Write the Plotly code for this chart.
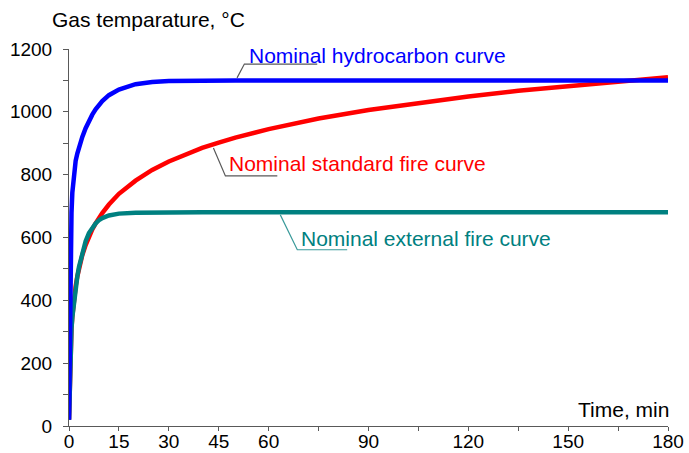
import plotly.graph_objects as go

time_min = [0, 0.25, 0.5, 0.75, 1, 1.5, 2, 2.5, 3, 4, 5, 6, 7, 8, 9, 10, 12, 15, 20, 25,
            30, 35, 40, 45, 50, 60, 75, 90, 105, 120, 135, 150, 165, 180]
hydrocarbon = [20, 373, 568, 679, 743, 810, 844, 867, 887, 920, 948, 971, 991, 1008, 1022, 1034,
               1053, 1071, 1088, 1095, 1098, 1099, 1100, 1100, 1100, 1100, 1100, 1100, 1100,
               1100, 1100, 1100, 1100, 1100]
standard = [20, 185, 261, 312, 349, 404, 445, 476, 502, 544, 576, 603, 626, 645, 663, 678, 705,
            739, 781, 815, 842, 865, 885, 902, 918, 945, 979, 1006, 1029, 1049, 1067, 1082,
            1097, 1110]
external = [20, 182, 263, 311, 346, 399, 441, 476, 506, 554, 588, 614, 632, 645, 655, 662, 670,
            676, 679, 680, 680, 680, 680, 680, 680, 680, 680, 680, 680, 680, 680, 680, 680, 680]

x_ticks = [0, 15, 30, 45, 60, 75, 90, 105, 120, 135, 150, 165, 180]
x_tick_labels = ["0", "15", "30", "45", "60", "", "90", "", "120", "", "150", "", "180"]
y_ticks = [0, 100, 200, 300, 400, 500, 600, 700, 800, 900, 1000, 1100, 1200]
y_tick_labels = ["0", "", "200", "", "400", "", "600", "", "800", "", "1000", "", "1200"]

FONT = "Liberation Sans, Arial, sans-serif"
BLUE = "#0000ff"
RED = "#ff0000"
TEAL = "#008080"
GREY = "#595959"

fig = go.Figure()
fig.add_trace(go.Scatter(x=time_min, y=standard, mode="lines",
                         line=dict(color=RED, width=4.5), name="Nominal standard fire curve"))
fig.add_trace(go.Scatter(x=time_min, y=external, mode="lines",
                         line=dict(color=TEAL, width=4.5), name="Nominal external fire curve"))
fig.add_trace(go.Scatter(x=time_min, y=hydrocarbon, mode="lines",
                         line=dict(color=BLUE, width=4.5), name="Nominal hydrocarbon curve"))

# leader lines
fig.add_shape(type="path", path="M 50.5 1108 L 52.7 1152 L 74.6 1152",
              xref="x", yref="y", line=dict(color=GREY, width=1.2))
fig.add_shape(type="path", path="M 43.4 885 L 47.0 796 L 62.6 796",
              xref="x", yref="y", line=dict(color=GREY, width=1.2))
fig.add_shape(type="path", path="M 63.5 672 L 68.6 561 L 83.6 561",
              xref="x", yref="y", line=dict(color="#3a9a9a", width=1.2))

fig.add_annotation(x=53.6, y=1179, xref="x", yref="y", text="Nominal hydrocarbon curve",
                   showarrow=False, xanchor="left", yanchor="middle",
                   font=dict(family=FONT, size=21, color=BLUE))
fig.add_annotation(x=47.6, y=834, xref="x", yref="y", text="Nominal standard fire curve",
                   showarrow=False, xanchor="left", yanchor="middle",
                   font=dict(family=FONT, size=21, color=RED))
fig.add_annotation(x=69.1, y=596, xref="x", yref="y", text="Nominal external fire curve",
                   showarrow=False, xanchor="left", yanchor="middle",
                   font=dict(family=FONT, size=21, color=TEAL))

fig.add_annotation(x=-0.032, y=1.078, xref="paper", yref="paper", text="Gas temparature, °C",
                   showarrow=False, xanchor="left", yanchor="middle",
                   font=dict(family=FONT, size=21, color="black"))
fig.add_annotation(x=1.0045, y=0.045, xref="paper", yref="paper", text="Time, min",
                   showarrow=False, xanchor="right", yanchor="middle",
                   font=dict(family=FONT, size=21, color="black"))

fig.update_layout(
    width=689, height=453,
    margin=dict(l=69, r=21, t=49, b=27),
    paper_bgcolor="white", plot_bgcolor="white",
    showlegend=False,
    font=dict(family=FONT, size=19, color="black"),
    xaxis=dict(range=[0, 180], tickmode="array", tickvals=x_ticks, ticktext=x_tick_labels,
               ticks="outside", ticklen=4, tickcolor=GREY, showline=True, linecolor=GREY,
               linewidth=1, showgrid=False, zeroline=False, automargin=False,
               ticklabelstandoff=-6,
               tickfont=dict(family=FONT, size=19, color="black")),
    yaxis=dict(range=[0, 1200], tickmode="array", tickvals=y_ticks, ticktext=y_tick_labels,
               ticks="outside", ticklen=5, tickcolor=GREY, showline=True, linecolor=GREY,
               linewidth=1, showgrid=False, zeroline=False, automargin=False,
               ticklabelstandoff=7,
               tickfont=dict(family=FONT, size=19, color="black")),
)

fig.write_html("out.html", config={"displayModeBar": False},
               post_script="document.body.style.margin='0px';document.body.style.overflow='hidden';")
